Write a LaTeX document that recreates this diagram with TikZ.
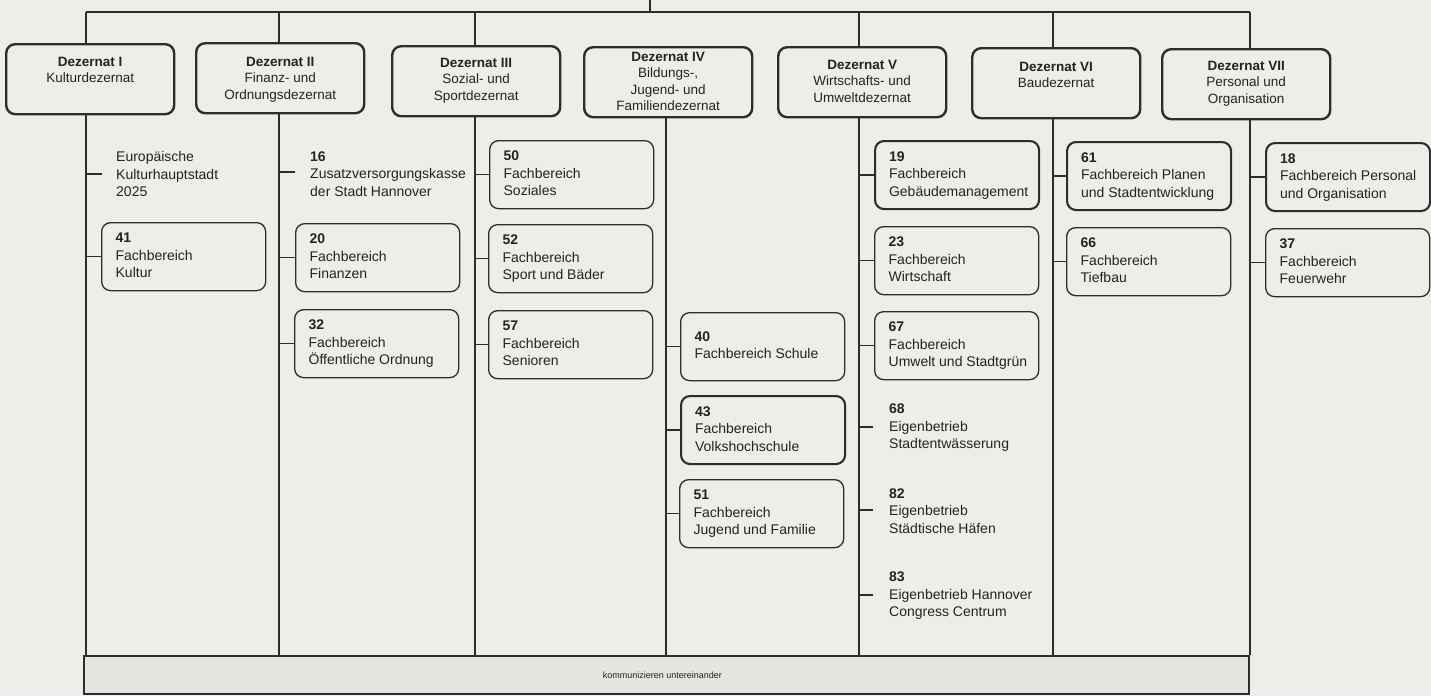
\documentclass[tikz,border=0pt]{standalone}
\usepackage{fontspec}
\setmainfont{Liberation Sans}
\definecolor{bg}{RGB}{237,237,233}
\definecolor{barfill}{RGB}{228,229,225}
\definecolor{linec}{RGB}{45,45,45}
\definecolor{txt}{RGB}{35,35,35}
\newcommand{\fbt}[1]{\makebox[136pt][l]{\begin{tabular}{@{}l@{}}#1\end{tabular}}}
\begin{document}
\begin{tikzpicture}[x=1pt,y=-1pt,
  conn/.style={draw=linec, line width=1.6pt},
  dzbox/.style={draw=linec, line width=2.4pt, rounded corners=9pt, fill=bg,
    minimum width=168pt, minimum height=70pt, inner sep=0pt, anchor=north west},
  dztext/.style={anchor=north, align=center, inner sep=0pt, text=txt,
    font=\fontsize{13.5}{16.5}\selectfont},
  fb/.style={draw=linec, line width=1.3pt, rounded corners=9pt, fill=bg,
    minimum width=164pt, minimum height=68pt,
    inner xsep=14pt, inner ysep=0pt, anchor=north west, text=txt,
    font=\fontsize{14}{17.5}\selectfont},
  fbk/.style={fb, line width=2.1pt},
  free/.style={anchor=west, align=left, inner sep=0pt, text=txt,
    font=\fontsize{14}{17.5}\selectfont},
  barbox/.style={draw=linec, line width=1.8pt, fill=barfill, anchor=north west,
    minimum width=1165pt, minimum height=38pt, inner sep=0pt, text=txt,
    font=\fontsize{9}{11}\selectfont}
]
\useasboundingbox (0,0) rectangle (1431,696);
\fill[bg] (0,0) rectangle (1431,696);

% line coordinates
\coordinate (top) at (650,0);
\coordinate (t1) at (86,12);
\coordinate (t2) at (279,12);
\coordinate (t3) at (475,12);
\coordinate (t4) at (666,12);
\coordinate (t5) at (859,12);
\coordinate (t6) at (1053,12);
\coordinate (t7) at (1250,12);

% bottom bar
\node[barbox] (bar) at (83,655) {\hspace*{-8pt}kommunizieren untereinander};

% Dezernate
\node[dzbox] (d1) at (5,43) {};
\node[dzbox] (d2) at (195,42) {};
\node[dzbox] (d3) at (391,45) {};
\node[dzbox] (d4) at (583,46) {};
\node[dzbox] (d5) at (777,46) {};
\node[dzbox] (d6) at (971,47) {};
\node[dzbox] (d7) at (1161,48) {};
\node[dztext] (d1t) at (d1.center |- 0,57) {\textbf{Dezernat I}\\Kulturdezernat};
\node[dztext] (d2t) at (d2.center |- 0,57) {\textbf{Dezernat II}\\Finanz- und\\Ordnungsdezernat};
\node[dztext] (d3t) at (d3.center |- 0,58) {\textbf{Dezernat III}\\Sozial- und\\Sportdezernat};
\node[dztext] (d4t) at (d4.center |- 0,52) {\textbf{Dezernat IV}\\Bildungs-,\\Jugend- und\\Familiendezernat};
\node[dztext] (d5t) at (d5.center |- 0,60) {\textbf{Dezernat V}\\Wirtschafts- und\\Umweltdezernat};
\node[dztext] (d6t) at (d6.center |- 0,62) {\textbf{Dezernat VI}\\Baudezernat};
\node[dztext] (d7t) at (d7.center |- 0,61) {\textbf{Dezernat VII}\\Personal und\\Organisation};

% top structure
\draw[conn] (top) -- (top |- t1);
\draw[conn] (t1) -- (t7);
\foreach \i in {1,2,3,5,6,7} {\draw[conn] (t\i) -- (t\i |- d\i.north);}
\foreach \i in {1,...,7} {\draw[conn] (t\i |- d\i.south) -- (t\i |- bar.north);}

% Dezernat I
\node[free] (eu) at (116,174) {Europäische\\Kulturhauptstadt\\2025};
\coordinate (eu-t) at (102,174);
\draw[conn] (t1 |- eu-t) -- (eu-t);
\node[fb] (f41) at (101,222) {\fbt{\textbf{41}\\Fachbereich\\Kultur}};
\draw[conn] (t1 |- f41.west) -- (f41.west);

% Dezernat II
\node[free] (z16) at (310,174) {\textbf{16}\\Zusatzversorgungskasse\\der Stadt Hannover};
\coordinate (z16-t) at (295,172);
\draw[conn] (t2 |- z16-t) -- (z16-t);
\node[fb] (f20) at (295,223) {\fbt{\textbf{20}\\Fachbereich\\Finanzen}};
\node[fb] (f32) at (294,309) {\fbt{\textbf{32}\\Fachbereich\\Öffentliche Ordnung}};
\draw[conn] (t2 |- f20.west) -- (f20.west);
\draw[conn] (t2 |- f32.west) -- (f32.west);

% Dezernat III
\node[fb] (f50) at (489,140) {\fbt{\textbf{50}\\Fachbereich\\Soziales}};
\node[fb] (f52) at (488,224) {\fbt{\textbf{52}\\Fachbereich\\Sport und Bäder}};
\node[fb] (f57) at (488,310) {\fbt{\textbf{57}\\Fachbereich\\Senioren}};
\draw[conn] (t3 |- f50.west) -- (f50.west);
\draw[conn] (t3 |- f52.west) -- (f52.west);
\draw[conn] (t3 |- f57.west) -- (f57.west);

% Dezernat IV
\node[fb] (f40) at (680,312) {\fbt{\textbf{40}\\Fachbereich Schule}};
\node[fbk] (f43) at (680,395) {\fbt{\textbf{43}\\Fachbereich\\Volkshochschule}};
\node[fb] (f51) at (679,479) {\fbt{\textbf{51}\\Fachbereich\\Jugend und Familie}};
\draw[conn] (t4 |- f40.west) -- (f40.west);
\draw[conn] (t4 |- f43.west) -- (f43.west);
\draw[conn] (t4 |- f51.west) -- (f51.west);

% Dezernat V
\node[fbk] (f19) at (874,140) {\fbt{\textbf{19}\\Fachbereich\\Gebäudemanagement}};
\node[fb] (f23) at (874,226) {\fbt{\textbf{23}\\Fachbereich\\Wirtschaft}};
\node[fb] (f67) at (874,311) {\fbt{\textbf{67}\\Fachbereich\\Umwelt und Stadtgrün}};
\draw[conn] (t5 |- f19.west) -- (f19.west);
\draw[conn] (t5 |- f23.west) -- (f23.west);
\draw[conn] (t5 |- f67.west) -- (f67.west);
\node[free] (e68) at (889,428) {\textbf{68}\\Eigenbetrieb\\Stadtentwässerung};
\node[free] (e82) at (889,511) {\textbf{82}\\Eigenbetrieb\\Städtische Häfen};
\node[free] (e83) at (889,596) {\textbf{83}\\Eigenbetrieb Hannover\\Congress Centrum};
\coordinate (e68-t) at (873,427);
\coordinate (e82-t) at (873,510);
\coordinate (e83-t) at (873,595);
\draw[conn] (t5 |- e68-t) -- (e68-t);
\draw[conn] (t5 |- e82-t) -- (e82-t);
\draw[conn] (t5 |- e83-t) -- (e83-t);

% Dezernat VI
\node[fbk] (f61) at (1066,141) {\fbt{\textbf{61}\\Fachbereich Planen\\und Stadtentwicklung}};
\node[fb] (f66) at (1066,227) {\fbt{\textbf{66}\\Fachbereich\\Tiefbau}};
\draw[conn] (t6 |- f61.west) -- (f61.west);
\draw[conn] (t6 |- f66.west) -- (f66.west);

% Dezernat VII
\node[fbk] (f18) at (1265,142) {\fbt{\textbf{18}\\Fachbereich Personal\\und Organisation}};
\node[fb] (f37) at (1265,228) {\fbt{\textbf{37}\\Fachbereich\\Feuerwehr}};
\draw[conn] (t7 |- f18.west) -- (f18.west);
\draw[conn] (t7 |- f37.west) -- (f37.west);
\end{tikzpicture}
\end{document}
